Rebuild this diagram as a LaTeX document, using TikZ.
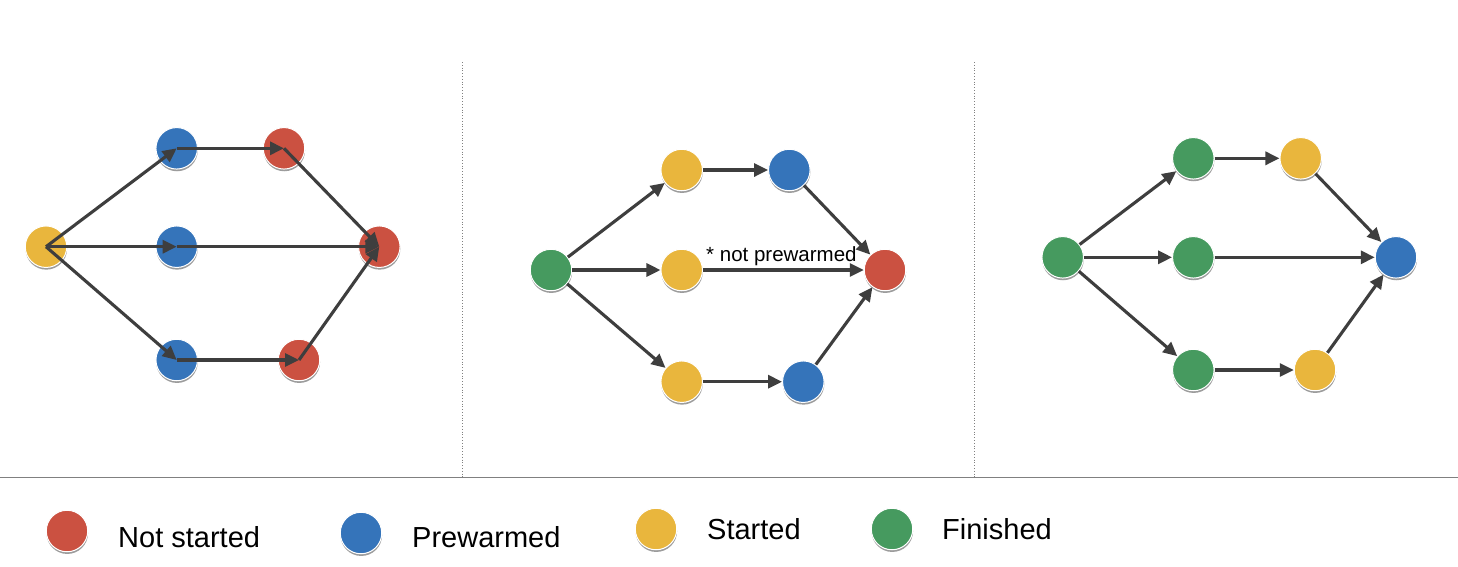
\documentclass[tikz,border=0pt]{standalone}
\usepackage{fontspec}
\setmainfont{Liberation Sans}
\usetikzlibrary{arrows.meta,shadows}
\definecolor{cred}{HTML}{CB5141}
\definecolor{cblue}{HTML}{3574BA}
\definecolor{cyellow}{HTML}{E9B63D}
\definecolor{cgreen}{HTML}{469A5F}
\definecolor{arrowgray}{HTML}{3E3E3E}
\definecolor{divgray}{HTML}{808080}
\tikzset{
  dot/.style={circle, minimum size=41.5pt, inner sep=0pt, fill=#1, draw=white, line width=1pt,
    drop shadow={shadow xshift=0.3pt, shadow yshift=-2.2pt, fill=black!55, opacity=0.7}},
  arr/.style={draw=arrowgray, line width=3.1pt, -{Triangle[length=14pt,width=13pt]}},
  legtext/.style={anchor=base west, font=\fontsize{29}{34}\selectfont, inner sep=0pt},
  lbl/.style={anchor=base west, font=\fontsize{20.5}{24}\selectfont, inner sep=0pt},
}
\begin{document}
\begin{tikzpicture}[x=1pt,y=-1pt]
\useasboundingbox[fill=white] (0,0) rectangle (1458,566);
% dividers
\draw[divgray, line width=1.4pt] (0,477.5) -- (1458,477.5);
\draw[divgray, line width=0.8pt, dotted] (462,62) -- (462,477);
\draw[divgray, line width=0.8pt, dotted] (974,62) -- (974,477);

% panel 1
\node[dot=cyellow] (p1a) at (46,246.7) {};
\node[dot=cblue]   (p1b) at (176.7,148.3) {};
\node[dot=cred]    (p1c) at (284,148.3) {};
\node[dot=cblue]   (p1d) at (176.7,246.7) {};
\node[dot=cred]    (p1e) at (379.3,246.7) {};
\node[dot=cblue]   (p1f) at (176.7,360) {};
\node[dot=cred]    (p1g) at (299,360) {};
\draw[arr] (p1a.center) -- (p1b.center);
\draw[arr] (p1b.center) -- (p1c.center);
\draw[arr] (p1c.center) -- (p1e.center);
\draw[arr] (p1a.center) -- (p1d.center);
\draw[arr] (p1d.center) -- (p1e.center);
\draw[arr] (p1a.center) -- (p1f.center);
\draw[arr] (p1f.center) -- (p1g.center);
\draw[arr] (p1g.center) -- (p1e.center);

% panel 2
\node[dot=cgreen]  (q1) at (551,270) {};
\node[dot=cyellow] (q2) at (681.7,170) {};
\node[dot=cblue]   (q3) at (789.3,170) {};
\node[dot=cyellow] (q4) at (681.7,270) {};
\node[dot=cred]    (q5) at (885,270) {};
\node[dot=cyellow] (q6) at (681.7,381.7) {};
\node[dot=cblue]   (q7) at (803.3,381.7) {};
\draw[arr] (q1) -- (q2);
\draw[arr] (q2) -- (q3);
\draw[arr] (q3) -- (q5);
\draw[arr] (q1) -- (q4);
\draw[arr] (q4) -- (q5);
\draw[arr] (q1) -- (q6);
\draw[arr] (q6) -- (q7);
\draw[arr] (q7) -- (q5);
\node[lbl] (np) at (706,261) {* not prewarmed};

% panel 3
\node[dot=cgreen]  (r1) at (1062.7,257.3) {};
\node[dot=cgreen]  (r2) at (1193.3,158.3) {};
\node[dot=cyellow] (r3) at (1300.7,158.3) {};
\node[dot=cgreen]  (r4) at (1193.3,257.3) {};
\node[dot=cblue]   (r5) at (1396,257.3) {};
\node[dot=cgreen]  (r6) at (1193.3,370) {};
\node[dot=cyellow] (r7) at (1315,370) {};
\draw[arr] (r1) -- (r2);
\draw[arr] (r2) -- (r3);
\draw[arr] (r3) -- (r5);
\draw[arr] (r1) -- (r4);
\draw[arr] (r4) -- (r5);
\draw[arr] (r1) -- (r6);
\draw[arr] (r6) -- (r7);
\draw[arr] (r7) -- (r5);

% legend
\node[dot=cred]    (l1) at (67,531) {};
\node[legtext]     (t1) at (118,547) {Not started};
\node[dot=cblue]   (l2) at (361,533) {};
\node[legtext]     (t2) at (412,547) {Prewarmed};
\node[dot=cyellow] (l3) at (656,529) {};
\node[legtext]     (t3) at (707,539) {Started};
\node[dot=cgreen]  (l4) at (892,529) {};
\node[legtext]     (t4) at (942,539) {Finished};
\end{tikzpicture}
\end{document}
